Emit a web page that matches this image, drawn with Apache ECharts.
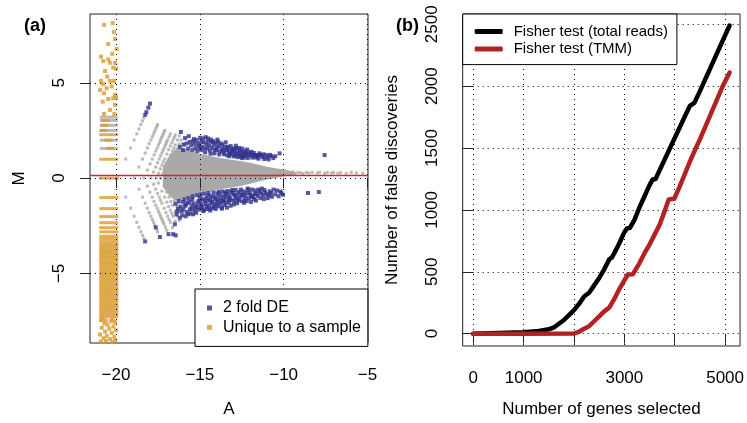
<!DOCTYPE html>
<html lang="en">
<head>
  <meta charset="UTF-8">
  <title>MA plot and false discoveries</title>
  <script src="https://cdn.jsdelivr.net/npm/echarts@6/dist/echarts.min.js"></script>
  <style>html, body { margin: 0; padding: 0; background: #fff; }</style>
</head>
<body>
<div id="main" style="width: 747px; height: 423px;"></div>
<script>
  // ---------- panel (a): MA plot ----------
  var aTicks = [-20, -15, -10, -5];
  var mTicks = [-5, 0, 5];
  var normOffset = 0.17;   // red line

  // low-count genes: lattice of rays on the left
  var grayLattice = [
    [-19.92,0],[-19.42,1],[-19.13,1.58],[-18.92,2],[-18.76,2.32],[-18.63,2.58],[-18.52,2.81],[-18.42,3],[-18.34,3.17],
    [-19.42,-1],[-18.92,0],[-18.63,0.58],[-18.42,1],[-18.26,1.32],[-18.13,1.58],[-18.02,1.81],[-17.92,2],[-17.83,2.17],
    [-17.76,2.32],[-17.69,2.46],[-17.63,2.58],[-17.57,2.7],[-17.52,2.81],
    [-19.13,-1.58],[-18.63,-0.58],[-18.34,0],[-18.13,0.42],[-17.97,0.74],[-17.84,1],[-17.73,1.22],[-17.63,1.42],[-17.54,1.58],
    [-17.47,1.74],[-17.4,1.87],[-17.34,2],[-17.28,2.12],[-17.23,2.22],[-17.18,2.32],[-17.13,2.42],[-17.09,2.5],
    [-18.92,-2],[-18.42,-1],[-18.13,-0.42],[-17.92,0],[-17.76,0.32],[-17.63,0.58],[-17.52,0.81],[-17.42,1],[-17.34,1.17],
    [-17.26,1.32],[-17.19,1.46],[-17.13,1.58],[-17.07,1.7],[-17.02,1.81],[-16.97,1.91],[-16.92,2],[-16.83,2.17],[-16.76,2.32],
    [-18.76,-2.32],[-18.26,-1.32],[-17.97,-0.74],[-17.76,-0.32],[-17.6,0],[-17.47,0.26],[-17.36,0.49],[-17.26,0.68],[-17.18,0.85],
    [-17.1,1],[-16.97,1.26],[-16.86,1.49],[-16.76,1.68],[-16.67,1.85],[-16.6,2],[-16.53,2.14],[-16.47,2.26],
    [-18.63,-2.58],[-18.13,-1.58],[-17.84,-1],[-17.63,-0.58],[-17.47,-0.26],[-17.34,0],[-17.23,0.22],[-17.13,0.42],[-16.97,0.74],
    [-16.84,1],[-16.73,1.22],[-16.63,1.42],[-16.55,1.58],[-16.47,1.74],[-16.34,2],[-16.22,2.22],
    [-16.52,1.19],[-16.36,1.52],[-16.23,1.78],[-16.12,2],[-16.26,1.32],[-16.13,1.58],[-16.02,1.81],
    [-18.52,-2.81],[-18.42,-3],[-18.34,-3.17],
    [-18.02,-1.81],[-17.92,-2],[-17.83,-2.17],[-17.76,-2.32],[-17.69,-2.46],[-17.57,-2.7],[-17.52,-2.81],
    [-17.73,-1.22],[-17.63,-1.42],[-17.54,-1.58],[-17.47,-1.74],[-17.4,-1.87],[-17.34,-2],[-17.28,-2.12],[-17.23,-2.22],
    [-17.18,-2.32],[-17.13,-2.42],[-17.05,-2.58],[-16.97,-2.74],
    [-17.52,-0.81],[-17.42,-1],[-17.34,-1.17],[-17.26,-1.32],[-17.13,-1.58],[-17.02,-1.81],[-16.92,-2],[-16.83,-2.17],
    [-16.76,-2.32],[-16.63,-2.58],
    [-17.26,-0.68],[-17.1,-1],[-16.97,-1.26],[-16.86,-1.49],[-16.76,-1.68],[-16.67,-1.85],[-16.6,-2],[-16.47,-2.26],
    [-17.13,-0.42],[-16.97,-0.74],[-16.84,-1],[-16.73,-1.22],[-16.63,-1.42],[-16.47,-1.74],[-16.34,-2],[-16.22,-2.22],
    [-16.52,-1.19],[-16.36,-1.52],[-16.23,-1.78],[-16.26,-1.32],[-16.13,-1.58],
    [-15.8,1.45],[-15.3,1.5],[-14.8,1.4],[-14.2,1.3],[-15.5,-1.2],[-14.9,-1.1]
  ];
  // high-count genes: dense core of the cloud (envelope)
  var coreA     = [-17.2, -16.8, -16.4, -16.0, -15.5, -15.0, -14.5, -14.0, -13.5, -13.0, -12.5, -12.0, -11.5, -11.0, -10.5, -10.0, -9.6, -9.3];
  var coreUpper = [0.6, 1.2, 1.55, 1.55, 1.4, 1.28, 1.18, 1.1, 1.02, 0.95, 0.88, 0.8, 0.7, 0.6, 0.52, 0.45, 0.38, 0.32];
  var coreLower = [-0.45, -0.95, -1.2, -1.1, -0.95, -0.8, -0.7, -0.62, -0.55, -0.48, -0.4, -0.3, -0.18, -0.08, 0.0, 0.08, 0.14, 0.2];
  var grayTail = [
    [-9.8,0.3],[-9.6,0.25],[-9.45,0.33],[-9.3,0.22],[-9.15,0.3],[-9.0,0.28],[-8.85,0.24],[-8.65,0.3],[-8.5,0.26],[-8.3,0.3],
    [-8.0,0.27],[-7.86,0.3],[-7.56,0.25],[-7.4,0.3],[-7.16,0.27],[-7.02,0.3],[-6.77,0.26],[-6.6,0.29],[-6.27,0.25],
    [-5.97,0.3],[-5.67,0.27],[-5.28,0.26]
  ];
  var grayBarsM = [3.2, 3.03, 2.77, 2.5, 1.99, 1.56];

  var blueDE = [
    // tips of the low-count rays
    [-18.26,3.32],[-18.19,3.46],[-18.07,3.7],[-17.97,3.91],[-18.26,-3.32],[-17.63,-2.58],[-17.38,-3.09],[-16.87,-2.94],
    [-16.44,-3.0],[-16.49,-2.42],
    // up in sample 2
    [-16.13,2.42],[-16.2,1.64],[-16.0,1.47],[-15.79,1.82],[-15.6,1.9],[-15.4,1.94],[-15.35,2.05],[-15.25,1.6],[-15.1,1.82],
    [-15.0,1.59],[-14.9,1.9],[-14.8,2.08],[-14.7,1.56],[-14.65,2.15],[-14.6,1.76],[-14.5,2.08],[-14.4,1.45],[-14.3,1.9],
    [-14.21,1.94],[-14.11,1.47],[-14.0,1.62],[-13.95,2.02],[-13.91,1.9],[-13.81,1.38],[-13.75,1.82],[-13.62,1.47],
    [-13.55,1.25],[-13.5,1.65],[-13.42,1.47],[-13.32,1.64],[-13.25,1.15],[-13.21,1.3],[-13.1,1.5],[-13.02,1.38],
    [-12.95,1.56],[-12.9,1.2],[-12.82,1.56],[-12.75,1.1],[-12.7,1.33],[-12.62,1.47],[-12.55,1.22],[-12.5,1.05],
    [-12.42,1.3],[-12.35,1.15],[-12.22,1.21],[-12.15,1.05],[-12.1,1.35],[-11.92,1.38],[-11.83,1.21],[-11.7,1.08],
    [-11.62,1.21],[-11.5,1.02],[-11.43,1.21],[-11.33,1.21],[-11.15,1.0],[-11.03,1.21],[-10.9,0.98],[-10.74,1.16],
    [-10.24,1.3],[-7.56,1.21],
    [-15.95,1.75],[-15.88,2.1],[-15.7,1.55],[-15.66,2.2],[-15.52,1.72],[-15.45,1.48],[-15.32,1.8],[-15.18,2.0],
    [-15.15,1.42],[-15.05,1.7],[-14.98,2.12],[-14.92,1.48],[-14.85,1.65],[-14.76,1.88],[-14.68,1.35],[-14.55,1.55],
    [-14.52,1.92],[-14.44,1.7],[-14.36,1.28],[-14.34,2.02],[-14.26,1.58],[-14.18,1.76],[-14.12,1.3],[-14.05,1.85],
    [-13.98,1.48],[-13.88,1.68],[-13.84,1.24],[-13.7,1.55],[-13.66,1.75],[-13.58,1.35],[-13.46,1.88],[-13.38,1.56],
    [-13.36,1.2],[-13.28,1.42],[-13.16,1.68],[-13.12,1.25],[-13.06,1.5],[-12.98,1.14],[-12.88,1.4],[-12.85,1.7],
    [-12.78,1.26],[-12.66,1.58],[-12.6,1.15],[-12.52,1.38],[-12.46,1.55],[-12.38,1.08],[-12.3,1.42],[-12.26,1.28],
    [-12.18,1.5],[-12.05,1.18],[-11.98,1.28],[-11.88,1.08],[-11.78,1.32],[-11.68,1.2],[-11.55,1.12],[-11.45,1.3],
    [-11.25,1.1],[-11.2,1.25],[-10.98,1.08],[-10.82,1.22],[-10.62,1.05],[-10.5,1.15],
    // down in sample 2
    [-16.59,-2.94],[-16.39,-1.9],[-16.3,-1.6],[-16.19,-2.08],[-16.09,-1.73],[-16.0,-1.25],[-15.9,-1.47],[-15.85,-2.0],
    [-15.75,-1.3],[-15.7,-1.9],[-15.6,-1.64],[-15.5,-1.45],[-15.45,-1.1],[-15.4,-1.9],[-15.3,-1.7],[-15.2,-1.56],
    [-15.1,-1.21],[-15.0,-1.0],[-14.95,-1.55],[-14.9,-1.38],[-14.8,-1.73],[-14.7,-1.2],[-14.6,-1.47],[-14.6,-1.04],
    [-14.5,-0.9],[-14.45,-1.6],[-14.4,-1.15],[-14.31,-1.3],[-14.21,-0.95],[-14.15,-1.5],[-14.1,-1.1],[-14.0,-1.38],
    [-13.95,-0.8],[-13.9,-1.25],[-13.81,-0.87],[-13.71,-1.21],[-13.7,-1.55],[-13.61,-1.21],[-13.6,-0.95],[-13.5,-0.75],
    [-13.42,-1.3],[-13.42,-0.83],[-13.3,-1.1],[-13.21,-1.04],[-13.15,-0.7],[-13.02,-0.78],[-12.92,-1.21],[-12.82,-0.95],
    [-12.7,-1.1],[-12.62,-0.73],[-12.5,-0.9],[-12.42,-0.87],[-12.32,-1.12],[-12.22,-0.78],[-12.1,-0.6],[-12.02,-0.78],
    [-11.9,-1.0],[-11.83,-0.95],[-11.7,-0.65],[-11.6,-0.82],[-11.43,-0.69],[-11.3,-0.55],[-11.23,-0.9],[-11.1,-0.75],
    [-10.87,-0.9],[-10.83,-0.69],[-10.6,-0.6],[-10.14,-0.78],[-10.04,-0.87],[-8.55,-0.78],[-7.9,-0.73],
    [-16.45,-1.35],[-16.35,-1.75],[-16.25,-1.2],[-16.15,-1.5],[-16.05,-1.95],[-15.98,-1.65],[-15.92,-1.12],[-15.82,-1.4],
    [-15.78,-1.78],[-15.68,-1.05],[-15.62,-1.25],[-15.55,-1.85],[-15.48,-1.62],[-15.42,-0.95],[-15.36,-1.32],[-15.28,-1.5],
    [-15.22,-1.82],[-15.16,-0.9],[-15.12,-1.4],[-15.05,-1.65],[-14.98,-1.2],[-14.92,-0.85],[-14.86,-1.52],[-14.82,-1.1],
    [-14.75,-1.68],[-14.72,-0.82],[-14.66,-1.35],[-14.58,-1.62],[-14.55,-1.18],[-14.48,-0.78],[-14.42,-1.42],[-14.38,-1.7],
    [-14.35,-0.98],[-14.26,-1.22],[-14.24,-1.58],[-14.18,-0.75],[-14.12,-1.35],[-14.05,-1.62],[-14.02,-1.0],[-13.96,-1.15],
    [-13.92,-1.48],[-13.86,-0.72],[-13.78,-1.05],[-13.76,-1.35],[-13.68,-1.6],[-13.64,-0.7],[-13.56,-1.15],[-13.52,-1.42],
    [-13.46,-0.98],[-13.38,-1.55],[-13.35,-0.68],[-13.26,-1.25],[-13.24,-0.9],[-13.16,-1.45],[-13.1,-1.15],[-13.06,-0.62],
    [-12.98,-1.38],[-12.96,-0.88],[-12.88,-1.05],[-12.86,-0.62],[-12.78,-1.32],[-12.74,-0.8],[-12.66,-1.18],[-12.58,-0.98],
    [-12.55,-0.6],[-12.46,-1.22],[-12.38,-0.7],[-12.35,-1.3],[-12.28,-0.95],[-12.2,-1.2],[-12.15,-0.55],[-12.08,-1.05],
    [-11.98,-0.88],[-11.95,-1.25],[-11.88,-0.6],[-11.76,-1.1],[-11.72,-0.82],[-11.65,-1.18],[-11.55,-0.95],[-11.5,-0.6],
    [-11.38,-1.05],[-11.35,-0.8],[-11.18,-1.1],[-11.15,-0.62],[-11.0,-0.85],[-10.95,-1.05],[-10.75,-0.78],[-10.7,-0.98],
    [-10.5,-0.85],[-10.4,-0.65],[-10.3,-0.95],[-10.2,-0.7]
  ];

  // genes seen in one sample only (A jittered between -21 and -20)
  var uniquePts = [
    [-20.71,8.04],[-20.2,8.13],[-20.12,7.66],[-20.06,7.3],[-20.46,7.04],[-19.96,6.78],[-20.22,6.52],[-20.89,6.37],
    [-20.76,6.14],[-20.46,6.23],[-20.36,6.05],[-20.06,6.05],[-20.65,5.62],[-20.17,5.8],[-20.0,5.74],[-20.52,5.33],
    [-20.36,5.1],[-20.89,5.1],[-20.12,5.1],[-20.76,4.93],[-20.95,4.63],[-20.56,4.71],[-20.26,4.81],[-20.71,4.45],
    [-20.06,4.37],[-20.46,4.15],[-20.17,4.19],[-20.79,4.01],[-20.0,4.24],[-20.06,3.84],[-20.36,3.58],[-20.71,3.37],
    [-20.1,3.37],
    [-20.8,-7.4],[-20.2,-7.42],[-20.9,-7.45],[-20.6,-7.48],[-20.3,-7.5],[-20.05,-7.55],[-20.7,-7.62],[-20.5,-7.7],
    [-20.15,-7.78],[-20.85,-7.85],[-20.4,-7.9],[-20.0,-7.98],[-20.65,-8.05],[-20.25,-8.12],[-20.95,-8.2],[-20.55,-8.28],
    [-20.1,-8.32],[-20.75,-8.4],[-20.35,-8.45],[-20.05,-8.52],[-20.6,-8.55],[-20.9,-8.58],[-20.2,-8.6]
  ];
  var uniqueBarsM = [
    2.28, 0.99, 0, -1.02, -1.6, -2.02, -2.34, -2.6, -2.82, -3.05, -3.19, -3.34, -3.48, -3.6, -3.72, -3.83, -3.94,
    -4.05, -4.16, -4.28, -4.4, -4.52, -4.64, -4.76, -4.88, -5.0, -5.12, -5.24, -5.36, -5.48, -5.6, -5.72, -5.84,
    -5.96, -6.08, -6.2, -6.32, -6.44, -6.56, -6.68, -6.8, -6.92, -7.04, -7.16, -7.28
  ];
  var uniqueBitsM = [3.03, 2.77, 2.5, 1.99, 1.56];
  var uniqueBitsA = [-20.6, -20.7, -20.75, -20.45, -20.35];

  // ---------- panel (b): false discoveries ----------
  var genesTotal = [0, 500, 1000, 1300, 1500, 1600, 1700, 1800, 1900, 2000, 2100, 2200, 2300, 2400, 2500, 2600, 2700,
    2750, 2800, 2900, 3000, 3050, 3110, 3200, 3300, 3400, 3500, 3560, 3620, 3700, 3800, 3900, 4000, 4100, 4200, 4300,
    4390, 4500, 4600, 4700, 4800, 4900, 5000, 5090];
  var fdTotal = [0, 5, 12, 22, 35, 50, 80, 110, 150, 190, 240, 300, 330, 390, 450, 520, 600,
    615, 650, 730, 820, 850, 855, 920, 1020, 1110, 1200, 1245, 1250, 1320, 1407, 1494, 1581, 1668, 1755, 1840,
    1865, 1960, 2050, 2140, 2230, 2320, 2410, 2490];
  var genesTMM = [0, 1000, 2000, 2100, 2200, 2300, 2400, 2500, 2600, 2700, 2800, 2900, 3000, 3070, 3170, 3300, 3400,
    3500, 3600, 3700, 3800, 3880, 3990, 4100, 4200, 4300, 4420, 4500, 4600, 4700, 4800, 4953, 5090];
  var fdTMM = [0, 0, 2, 15, 40, 60, 100, 140, 180, 210, 280, 360, 430, 478, 480, 570, 650,
    720, 800, 880, 990, 1085, 1090, 1190, 1290, 1390, 1500, 1570, 1665, 1760, 1855, 2000, 2110];
  var genesTicks = [0, 1000, 2000, 3000, 4000, 5000];
  var genesLabels = [0, 1000, 3000, 5000];
  var fdTicks = [0, 500, 1000, 1500, 2000, 2500];

  var FONT = 'Liberation Sans, Arial, sans-serif';
  var GRAY = '#a9a9a9', BLUE = '#30308c', ORANGE = '#d99a2b';

  function pairs(xs, ys) { return xs.map(function (x, i) { return [x, ys[i]]; }); }
  function minus(v) { return String(v).replace('-', '\u2212'); }

  function axisCommon(ticks, labels, rotate, margin) {
    return {
      type: 'value',
      axisLine: { show: false },
      axisTick: { show: true, length: 10, customValues: ticks, lineStyle: { color: '#222', width: 1 } },
      axisLabel: { customValues: labels, rotate: rotate, margin: margin, fontSize: 17, color: '#000',
        fontFamily: FONT, formatter: minus },
      splitLine: { show: true, lineStyle: { color: '#000', width: 1, type: [1, 4] } },
      nameLocation: 'middle',
      nameTextStyle: { fontSize: 17, color: '#000', fontFamily: FONT },
      z: 3
    };
  }

  var xA = axisCommon(aTicks, aTicks, 0, 24);
  Object.assign(xA, { gridIndex: 0, min: -21.55, max: -4.97, name: 'A', nameGap: 58 });
  var yM = axisCommon(mTicks, mTicks, 90, 22);
  Object.assign(yM, { gridIndex: 0, min: -8.65, max: 8.61, name: 'M', nameGap: 62 });
  var xG = axisCommon(genesTicks, genesLabels, 0, 24);
  Object.assign(xG, { gridIndex: 1, min: -210, max: 5297, name: 'Number of genes selected', nameGap: 55 });
  var yF = axisCommon(fdTicks, fdTicks, 90, 22);
  Object.assign(yF, { gridIndex: 1, min: -100, max: 2583, name: 'Number of false discoveries', nameGap: 62 });

  var chart = echarts.init(document.getElementById('main'));
  chart.setOption({
    animation: false,
    backgroundColor: '#fff',
    textStyle: { fontFamily: FONT },
    title: [
      { text: '(a)', left: 24, top: 17, padding: 0, textStyle: { fontSize: 18, fontWeight: 'bold', color: '#000', fontFamily: FONT } },
      { text: '(b)', left: 396, top: 17, padding: 0, textStyle: { fontSize: 18, fontWeight: 'bold', color: '#000', fontFamily: FONT } }
    ],
    grid: [
      { left: 90, top: 14, width: 278, height: 332.7, show: true, borderColor: '#222', borderWidth: 1, backgroundColor: 'transparent' },
      { left: 462.7, top: 14, width: 278, height: 332.7, show: true, borderColor: '#222', borderWidth: 1, backgroundColor: 'transparent' }
    ],
    xAxis: [xA, xG],
    yAxis: [yM, yF],
    legend: [
      {
        data: [{ name: '2 fold DE', icon: 'rect' }, { name: 'Unique to a sample', icon: 'rect' }],
        orient: 'vertical', left: 195, top: 289, padding: [11, 7, 11, 12],
        itemWidth: 5, itemHeight: 5, itemGap: 3.4,
        borderColor: '#000', borderWidth: 1, backgroundColor: '#fff',
        textStyle: { fontSize: 16, color: '#000', fontFamily: FONT, padding: [0, 0, 0, 6] }
      },
      {
        data: [{ name: 'Fisher test (total reads)', icon: 'roundRect' }, { name: 'Fisher test (TMM)', icon: 'roundRect' }],
        orient: 'vertical', left: 462.7, top: 14, padding: [10, 9, 8, 12],
        itemWidth: 28, itemHeight: 5, itemGap: 2.6,
        borderColor: '#000', borderWidth: 1, backgroundColor: '#fff',
        textStyle: { fontSize: 15, color: '#000', fontFamily: FONT, padding: [0, 0, 0, 6] }
      }
    ],
    series: [
      {
        type: 'custom', name: 'core', xAxisIndex: 0, yAxisIndex: 0, silent: true,
        data: [[coreA[0], 0]],
        renderItem: function (params, api) {
          var pts = [], i;
          for (i = 0; i < coreA.length; i++) pts.push(api.coord([coreA[i], coreUpper[i]]));
          for (i = coreA.length - 1; i >= 0; i--) pts.push(api.coord([coreA[i], coreLower[i]]));
          return { type: 'polygon', shape: { points: pts }, style: { fill: GRAY } };
        }
      },
      { type: 'scatter', name: 'low counts', xAxisIndex: 0, yAxisIndex: 0, data: grayLattice,
        symbol: 'rect', symbolSize: 3, itemStyle: { color: GRAY } },
      { type: 'scatter', name: 'tail', xAxisIndex: 0, yAxisIndex: 0, data: grayTail,
        symbol: 'rect', symbolSize: 3, itemStyle: { color: GRAY },
        markLine: { silent: true, symbol: 'none', label: { show: false },
          lineStyle: { color: '#dd2222', width: 1.3, type: 'solid' }, data: [{ yAxis: normOffset }] } },
      { type: 'scatter', name: 'gray bars', xAxisIndex: 0, yAxisIndex: 0,
        data: grayBarsM.map(function (m) { return [-20.43, m]; }),
        symbol: 'rect', symbolSize: [18, 3], itemStyle: { color: GRAY } },
      { type: 'scatter', name: 'Unique to a sample', xAxisIndex: 0, yAxisIndex: 0, data: uniquePts,
        symbol: 'rect', symbolSize: 4, itemStyle: { color: ORANGE } },
      { type: 'scatter', name: 'Unique to a sample', xAxisIndex: 0, yAxisIndex: 0,
        data: uniqueBarsM.map(function (m) { return [-20.43, m]; }),
        symbol: 'rect', symbolSize: [19, 3], itemStyle: { color: ORANGE } },
      { type: 'scatter', name: 'Unique to a sample', xAxisIndex: 0, yAxisIndex: 0,
        data: pairs(uniqueBitsA, uniqueBitsM),
        symbol: 'rect', symbolSize: [8, 3], itemStyle: { color: ORANGE } },
      { type: 'scatter', name: '2 fold DE', xAxisIndex: 0, yAxisIndex: 0, data: blueDE,
        symbol: 'rect', symbolSize: 4, itemStyle: { color: BLUE } },

      { type: 'line', name: 'Fisher test (total reads)', xAxisIndex: 1, yAxisIndex: 1,
        data: pairs(genesTotal, fdTotal), showSymbol: false, symbol: 'none',
        itemStyle: { color: '#000' }, lineStyle: { color: '#000', width: 4.5, cap: 'round', join: 'round' } },
      { type: 'line', name: 'Fisher test (TMM)', xAxisIndex: 1, yAxisIndex: 1,
        data: pairs(genesTMM, fdTMM), showSymbol: false, symbol: 'none',
        itemStyle: { color: '#b22222' }, lineStyle: { color: '#b22222', width: 4.5, cap: 'round', join: 'round' } }
    ]
  });
</script>
</body>
</html>
